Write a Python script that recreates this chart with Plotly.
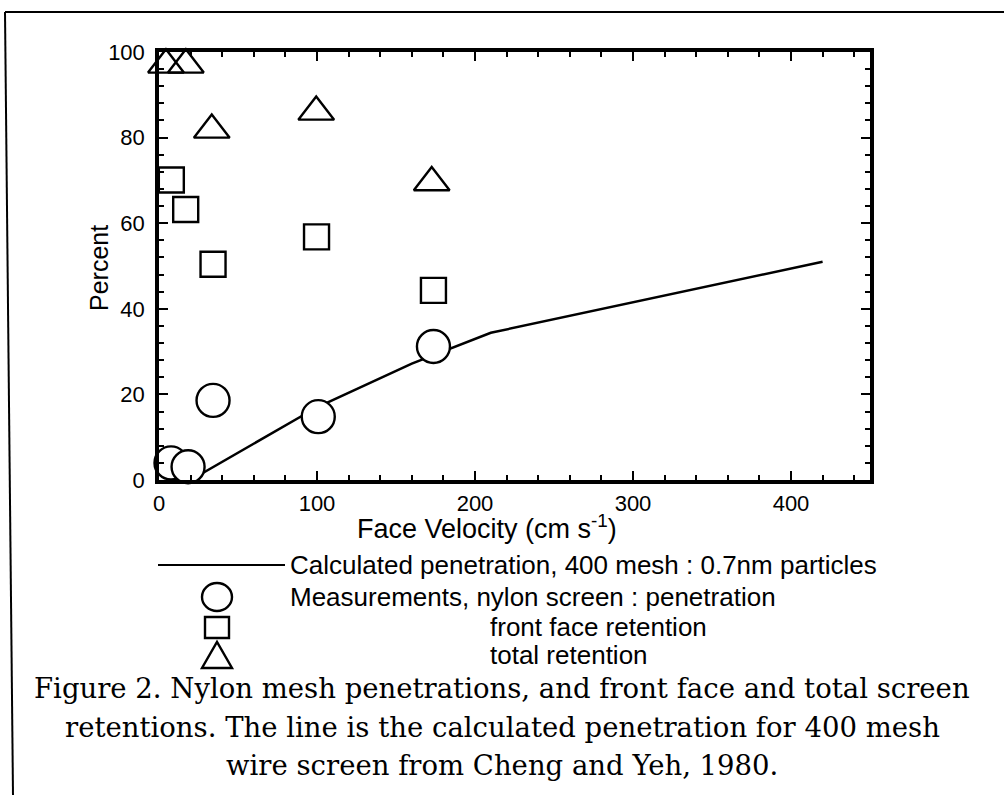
import plotly.graph_objects as go

# ---- data ----
pen_x = [7.6, 18.4, 34.2, 100.8, 173.7]
pen_y = [4.0, 3.1, 18.6, 14.8, 31.2]

front_x = [7.8, 16.9, 34.2, 99.7, 173.7]
front_y = [70.1, 63.2, 50.4, 56.8, 44.3]

total_x = [4.4, 17.0, 33.4, 99.5, 172.6]
total_y = [97.0, 97.0, 81.8, 86.0, 69.5]

calc_x = [20, 29, 100, 160, 210, 420]
calc_y = [0.0, 1.9, 17.0, 27.2, 34.4, 51.0]

x_ticks = [0, 100, 200, 300, 400]
y_ticks = [0, 20, 40, 60, 80, 100]

legend_texts = [
    "Calculated penetration, 400 mesh : 0.7nm particles",
    "Measurements, nylon screen : penetration",
    "front face retention",
    "total retention",
]
caption_lines = [
    "Figure 2. Nylon mesh penetrations, and front face and total screen",
    "retentions. The line is the calculated penetration for 400 mesh",
    "wire screen from Cheng and Yeh, 1980.",
]

# ---- layout geometry (pixels) ----
W, H = 1004, 795
L, R, T, B = 159, 870, 52, 480


def px(x):
    return (x - L) / (R - L)


def py(y):
    return (B - y) / (B - T)


SANS = "Liberation Sans, Arial, sans-serif"
SERIF = "DejaVu Serif, serif"

fig = go.Figure()

fig.add_trace(go.Scatter(x=calc_x, y=calc_y, mode="lines",
                         line=dict(color="black", width=2.5), cliponaxis=False))
fig.add_trace(go.Scatter(x=pen_x, y=pen_y, mode="markers", cliponaxis=False,
                         marker=dict(symbol="circle", size=33, color="white",
                                     line=dict(color="black", width=2.4))))
fig.add_trace(go.Scatter(x=front_x, y=front_y, mode="markers", cliponaxis=False,
                         marker=dict(symbol="square", size=25, color="white",
                                     line=dict(color="black", width=2.4))))
fig.add_trace(go.Scatter(x=total_x, y=total_y, mode="markers", cliponaxis=False,
                         marker=dict(symbol="triangle-up", size=31, color="rgba(0,0,0,0)",
                                     line=dict(color="black", width=2.4))))

axis_common = dict(showline=True, linecolor="black", linewidth=3.5, mirror="ticks",
                   ticks="inside", ticklen=9, tickwidth=2, tickcolor="black",
                   showgrid=False, zeroline=False,
                   tickfont=dict(family=SANS, size=22, color="black"))

fig.update_layout(
    width=W, height=H,
    margin=dict(l=L, r=W - R, t=T, b=H - B),
    paper_bgcolor="white", plot_bgcolor="white",
    showlegend=False,
    xaxis=dict(range=[0, 450], tickvals=x_ticks, ticklabelstandoff=1,
               minor=dict(dtick=20, ticks="inside", ticklen=5, tickwidth=2,
                          tickcolor="black"),
               **axis_common),
    yaxis=dict(range=[0, 100], tickvals=y_ticks, ticklabelstandoff=6,
               minor=dict(dtick=4, ticks="inside", ticklen=5, tickwidth=2,
                          tickcolor="black"),
               **axis_common),
)

# axis titles
fig.add_annotation(x=px(487), y=py(527), xref="paper", yref="paper",
                   xanchor="center", yanchor="middle",
                   text="Face Velocity (cm s<sup>-1</sup>)", showarrow=False,
                   font=dict(family=SANS, size=27, color="black"))
fig.add_annotation(x=px(99), y=py(268), xref="paper", yref="paper",
                   xanchor="center", yanchor="middle",
                   text="Percent", textangle=-90, showarrow=False,
                   font=dict(family=SANS, size=25, color="black"))

# legend line + symbols + texts
lk = dict(color="black", width=2.4)
fig.add_shape(type="line", xref="paper", yref="paper",
              x0=px(158), x1=px(285), y0=py(565), y1=py(565),
              line=dict(color="black", width=2))
fig.add_shape(type="circle", xref="paper", yref="paper",
              x0=px(202), x1=px(232), y0=py(611), y1=py(583),
              line=lk, fillcolor="white")
fig.add_shape(type="rect", xref="paper", yref="paper",
              x0=px(205), x1=px(229), y0=py(638), y1=py(617),
              line=lk, fillcolor="white")
tri = "M {:.5f},{:.5f} L {:.5f},{:.5f} L {:.5f},{:.5f} Z".format(
    px(202), py(668), px(232), py(668), px(217), py(642))
fig.add_shape(type="path", xref="paper", yref="paper", path=tri,
              line=lk, fillcolor="white")

leg_pos = [(288, 565), (288, 597), (488, 627), (488, 655)]
for (lx, ly), t in zip(leg_pos, legend_texts):
    fig.add_annotation(x=px(lx), y=py(ly), xref="paper", yref="paper",
                       xanchor="left", yanchor="middle", text=t, showarrow=False,
                       font=dict(family=SANS, size=26, color="black"))

# caption
for cy, t in zip([688, 727, 765], caption_lines):
    fig.add_annotation(x=px(502), y=py(cy), xref="paper", yref="paper",
                       xanchor="center", yanchor="middle", text=t, showarrow=False,
                       font=dict(family=SERIF, size=27.5, color="black"))

# page frame (scan border)
fig.add_shape(type="line", xref="paper", yref="paper",
              x0=px(5), x1=px(1004), y0=py(12), y1=py(12),
              line=dict(color="black", width=2))
fig.add_shape(type="line", xref="paper", yref="paper",
              x0=px(5), x1=px(13), y0=py(12), y1=py(795),
              line=dict(color="black", width=2))

fig.write_html("out.html")
